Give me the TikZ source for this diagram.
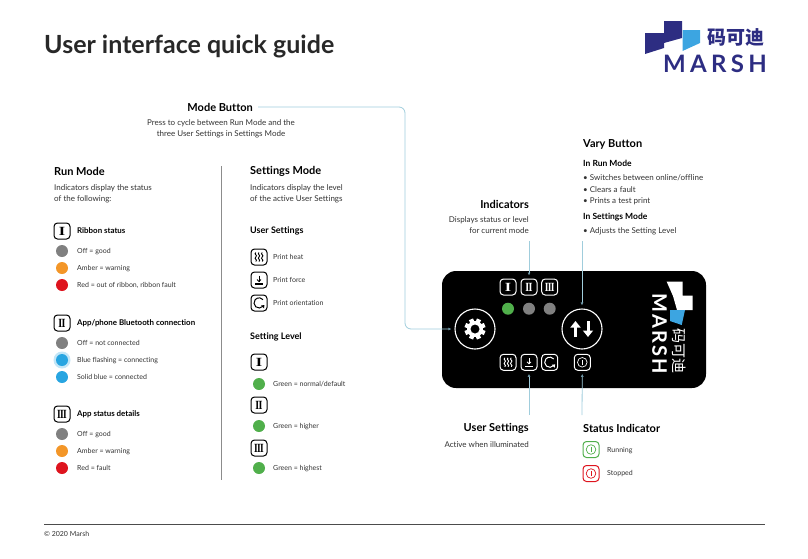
\documentclass[tikz,border=0pt]{standalone}
\usepackage{fontspec}
\setmainfont{Lato}[Ligatures={NoCommon}]
\newfontfamily\cjkfont{Noto Sans CJK SC}
\usetikzlibrary{calc, arrows.meta}

\definecolor{leaderblue}{RGB}{160,205,220}
\definecolor{leaderdim}{RGB}{110,150,165}
\definecolor{logonavy}{RGB}{45,45,130}
\definecolor{logosky}{RGB}{60,165,225}
\definecolor{dotgrey}{RGB}{128,128,128}
\definecolor{dotamber}{RGB}{243,150,40}
\definecolor{dotred}{RGB}{222,20,30}
\definecolor{dotblue}{RGB}{40,165,225}
\definecolor{dotgreen}{RGB}{80,175,75}
\definecolor{textgrey}{RGB}{50,50,50}

\tikzset{
	heading/.style = {anchor=west, font=\fontsize{11}{13}\selectfont\bfseries, text=black, inner sep=0pt},
	subhead/.style = {anchor=west, font=\fontsize{8.5}{10}\selectfont\bfseries, text=black, inner sep=0pt},
	itemhead/.style = {subhead, font=\fontsize{7.9}{10}\selectfont\bfseries},
	sethead/.style = {subhead, font=\fontsize{9}{10}\selectfont\bfseries},
	bodytext/.style = {anchor=west, font=\fontsize{8}{10.6}\selectfont, text=textgrey, inner sep=0pt, align=left},
	small/.style = {anchor=west, font=\fontsize{7}{9}\selectfont, text=textgrey, inner sep=0pt, text height=5.5pt, text depth=1.5pt},
	lamp/.style = {circle, minimum size=12pt, inner sep=0pt, fill=#1},
	iconbox/.style = {draw=#1, rounded corners=3.5pt, line width=1pt, minimum size=16pt, inner sep=0pt, text=#1},
	iconbox/.default = black,
	leader/.style = {draw=leaderblue, line width=0.8pt, rounded corners=6pt, shorten >=3pt,
		-{Latex[length=3pt,width=3pt,color=leaderdim]}},
}
\newcommand{\numeral}[2][.8]{\scalebox{#1}[1]{\fontspec{Liberation Serif}\fontsize{12.5}{12.5}\selectfont\bfseries #2}}

\begin{document}
\begin{tikzpicture}[x=1pt, y=-1pt]
	\useasboundingbox (0,0) rectangle (808,558);

	% title and foot
	\node [anchor=west, inner sep=0pt, font=\fontsize{25}{30}\selectfont\bfseries, text=textgrey!80!black] (title) at (44,46.5) {User interface quick guide};
	\coordinate (footL) at (44,524);
	\coordinate (footR) at (765,524);
	\draw [line width=0.6pt, black!70] (footL) -- (footR);
	\node [small] (copy) at (44,534) {© 2020 Marsh};

	% top logo
	\begin{scope}
		\fill [logonavy] (645,33) -- (664,33) -- (664,21) -- (682,21) -- (682,38) -- (664,43) -- (664,48) -- (645,54) -- cycle;
		\fill [logosky] (682.5,30) -- (700,30) -- (700,43) -- (682.5,51) -- cycle;
		\node [anchor=west, inner sep=0pt, text=logonavy, font=\cjkfont\bfseries\fontsize{19}{19}\selectfont] (logoCN) at (707,37) {码可迪};
		\node [anchor=west, inner sep=0pt, text=logonavy, font=\bfseries\fontsize{24}{24}\selectfont\addfontfeature{LetterSpace=18}] (logoEN) at (663,63.5) {MARSH};
	\end{scope}

	% run mode column
	\node [heading] (runHead) at (54,171) {Run Mode};
	\node [bodytext, anchor=north west] (runText) at (54,184.5) {Indicators display the status\\of the following:};

	\node [iconbox] (runI) at (62,231) {\numeral[1.3]{I}};
	\node [itemhead] (ribbon) at (77,231) {Ribbon status};
	\node [lamp=dotgrey] (runA1) at (62,251) {};
	\node [lamp=dotamber] (runA2) at (62,268) {};
	\node [lamp=dotred] (runA3) at (62,285) {};
	\node [small] at (77,251) {Off = good};
	\node [small] at (77,268) {Amber = warning};
	\node [small] at (77,285) {Red = out of ribbon, ribbon fault};

	\node [iconbox] (runII) at (62,323) {\numeral{I\kern-.8pt I}};
	\node [itemhead] (bluetooth) at (77,323) {App/phone Bluetooth connection};
	\node [lamp=dotgrey] (runB1) at (62,343) {};
	\node [lamp=dotblue!40, minimum size=17pt, opacity=0.7] (runGlow) at (62,360) {};
	\node [lamp=dotblue] (runB2) at (62,360) {};
	\node [lamp=dotblue] (runB3) at (62,377) {};
	\node [small] at (77,343) {Off = not connected};
	\node [small] at (77,360) {Blue flashing = connecting};
	\node [small] at (77,377) {Solid blue = connected};

	\node [iconbox] (runIII) at (62,414) {\numeral[.75]{I\kern-.8pt I\kern-.8pt I}};
	\node [itemhead] (appstatus) at (77,414) {App status details};
	\node [lamp=dotgrey] (runC1) at (62,434) {};
	\node [lamp=dotamber] (runC2) at (62,451) {};
	\node [lamp=dotred] (runC3) at (62,468) {};
	\node [small] at (77,434) {Off = good};
	\node [small] at (77,451) {Amber = warning};
	\node [small] at (77,468) {Red = fault};

	% divider
	\coordinate (divTop) at (221,166);
	\coordinate (divBot) at (221,480);
	\draw [line width=0.7pt, black!45] (divTop) -- (divBot);

	% settings mode column
	\node [heading] (setHead) at (250,171) {Settings Mode};
	\node [bodytext, anchor=north west] (setText) at (250,184.5) {Indicators display the level\\of the active User Settings};
	\node [sethead] (userSet) at (250,231) {User Settings};
	\node [iconbox] (heatA) at (259,257) {};
	\node [iconbox] (forceA) at (259,280) {};
	\node [iconbox] (orientA) at (259,303) {};
	\node [small] at (273,257) {Print heat};
	\node [small] at (273,280) {Print force};
	\node [small] at (273,303) {Print orientation};

	\node [sethead] (level) at (250,337) {Setting Level};
	\node [iconbox] (lvlI) at (259,362) {\numeral[1.3]{I}};
	\node [lamp=dotgreen] (lvlA) at (259,384) {};
	\node [iconbox] (lvlII) at (259,405) {\numeral{I\kern-.8pt I}};
	\node [lamp=dotgreen] (lvlB) at (259,426) {};
	\node [iconbox] (lvlIII) at (259,448) {\numeral[.75]{I\kern-.8pt I\kern-.8pt I}};
	\node [lamp=dotgreen] (lvlC) at (259,468) {};
	\node [small] at (273,384) {Green = normal/default};
	\node [small] at (273,426) {Green = higher};
	\node [small] at (273,468) {Green = highest};

	% mode button
	\node [heading, anchor=east] (modeHead) at (253,107) {Mode Button};
	\node [bodytext, anchor=north, align=center] (modeText) at (221,119.5) {Press to cycle between Run Mode and the\\three User Settings in Settings Mode};

	% vary button
	\node [heading] (varyHead) at (583,144) {Vary Button};
	\node [subhead] (varyRun) at (583,163) {In Run Mode};
	\node [bodytext] at (583,177.7) {• Switches between online/offline};
	\node [bodytext] at (583,189.7) {• Clears a fault};
	\node [bodytext] at (583,201.7) {• Prints a test print};
	\node [subhead] (varySet) at (583,217) {In Settings Mode};
	\node [bodytext] at (583,231.7) {• Adjusts the Setting Level};

	% indicators
	\node [heading, anchor=east] (indHead) at (529,204) {Indicators};
	\node [bodytext, anchor=north east, align=right] (indText) at (529,216.5) {Displays status or level\\for current mode};

	% panel
	\node [fill=black, rounded corners=14pt, minimum width=264pt, minimum height=117pt, inner sep=0pt] (panel) at (574,329.5) {};
	\node [circle, draw=white, line width=1.1pt, minimum size=40pt, inner sep=0pt] (gear) at (475,329) {};
	\node [circle, draw=white, line width=1.1pt, minimum size=40pt, inner sep=0pt] (vary) at (582,329) {};

	\begin{scope}[shift={(475,329)}]
		\foreach \a in {0,45,...,315}
			\fill [white, rotate=\a+22.5] (-2.2,-10.5) rectangle (2.2,-6);
		\fill [white, even odd rule] (0,0) circle (8) (0,0) circle (4.6);
	\end{scope}

	\begin{scope}[white, line width=3pt]
		\draw [-{Triangle[length=6.5pt,width=10pt]}] (575.5,337) -- (575.5,321);
		\draw [-{Triangle[length=6.5pt,width=10pt]}] (588,321) -- (588,337);
	\end{scope}

	\node [iconbox=white] (panI) at (508,287) {\numeral[1.3]{I}};
	\node [iconbox=white] (panII) at (529,287) {\numeral{I\kern-.8pt I}};
	\node [iconbox=white] (panIII) at (549.7,287) {\numeral[.75]{I\kern-.8pt I\kern-.8pt I}};
	\node [lamp=dotgreen] (panA) at (508,308.7) {};
	\node [lamp=dotgrey] (panB) at (529,308.7) {};
	\node [lamp=dotgrey] (panC) at (549.7,308.7) {};
	\node [iconbox=white] (heatB) at (508,362.3) {};
	\node [iconbox=white] (forceB) at (529,362.3) {};
	\node [iconbox=white] (orientB) at (549.7,362.3) {};
	\node [iconbox=white] (power) at (582.3,362.3) {};

	% icons drawn inside the boxes
	\foreach \b/\c in {heatA/black, heatB/white} {
		\foreach \dx in {-3.2,0,3.2}
			\draw [\c, line width=0.9pt] ($(\b)+(\dx,-4.5)$) .. controls +(-2.5,2) and +(2.5,-2) .. ++(0,4.5) .. controls +(-2.5,2) and +(2.5,-2) .. ++(0,4.5);
	}
	\foreach \b/\c in {forceA/black, forceB/white} {
		\draw [\c, line width=0.8pt] ($(\b)+(0,-4.5)$) -- ++(0,6);
		\draw [\c, line width=0.8pt] ($(\b)+(-2,-0.5)$) -- ++(2,2) -- ++(2,-2);
		\draw [\c, line width=1.2pt] ($(\b)+(-4,4)$) -- ++(8,0);
	}
	\foreach \b/\c in {orientA/black, orientB/white} {
		\draw [\c, line width=1pt] ($(\b)+(4,3.2)$) arc (40:320:5.1);
		\fill [\c] ($(\b)+(2,2.5)$) -- ++(3.4,-0.5) -- ++(-0.4,3.4) -- cycle;
	}

	% power icon
	\draw [white, line width=0.7pt] (power) circle (4.8);
	\draw [white, line width=0.8pt] ($(power)+(0,-2.4)$) -- ($(power)+(0,2.4)$);

	% panel logo
	\fill [white] (666.7,281.7) -- (682.7,281.7) -- (682.7,295.7) -- (692.7,295.7) -- (692.7,310) -- (677,310) -- (673,296) -- cycle;
	\fill [logosky] (670,310) -- (685,310) -- (681.7,325) -- (670,321) -- cycle;
	\node [rotate=-90, inner sep=0pt, text=white, font=\bfseries\fontsize{20}{20}\selectfont\addfontfeature{LetterSpace=10}] (panelEN) at (659.5,334) {MARSH};
	\node [rotate=-90, inner sep=0pt, text=white, font=\cjkfont\fontsize{15}{15}\selectfont] (panelCN) at (679,350.5) {码可迪};

	% leaders
	\coordinate (modeStart) at (258,107);
	\coordinate (indStart) at (529,241);
	\coordinate (varyStart) at (582,241);
	\coordinate (userEnd) at (529,415);
	\coordinate (statEnd) at (582,415);
	\draw [leader] (modeStart) -- (405,107) -- (405,329) -- (gear.west);
	\draw [leader] (indStart) -- (panII.north);
	\draw [leader] (varyStart) -- (vary.north);
	\draw [leader] (userEnd) -- (forceB.south);
	\draw [leader] (statEnd) -- (power.south);

	% lower labels
	\node [heading, anchor=east] (userHead) at (529,428) {User Settings};
	\node [bodytext, anchor=east] (userText) at (529,444.5) {Active when illuminated};
	\node [heading] (statHead) at (583,428) {Status Indicator};
	\node [iconbox=dotgreen] (statRun) at (591,449.5) {};
	\node [iconbox=dotred] (statStop) at (591,473.5) {};
	\draw [dotgreen, line width=0.7pt] (statRun) circle (4.8);
	\draw [dotgreen, line width=0.8pt] ($(statRun)+(0,-2.4)$) -- ($(statRun)+(0,2.4)$);
	\draw [dotred, line width=0.7pt] (statStop) circle (4.8);
	\draw [dotred, line width=0.8pt] ($(statStop)+(0,-2.4)$) -- ($(statStop)+(0,2.4)$);
	\node [small] at (607,450) {Running};
	\node [small] at (607,473.5) {Stopped};
\end{tikzpicture}
\end{document}
